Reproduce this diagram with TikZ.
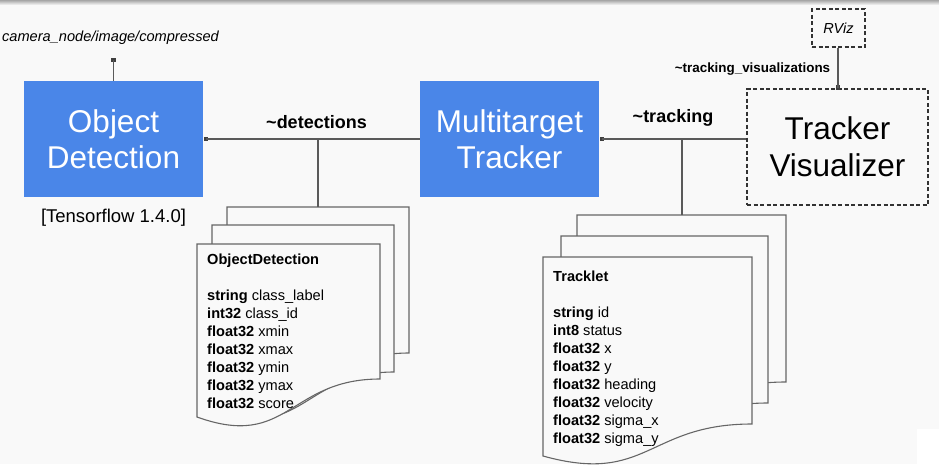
\documentclass[tikz,border=0pt]{standalone}
\usepackage{fontspec}
\setmainfont{Liberation Sans}
\definecolor{bg}{HTML}{F9F9F9}
\definecolor{gblue}{HTML}{4A86E8}
\definecolor{ln}{HTML}{5A5A5A}
\tikzset{
  blk/.style={fill=gblue, text=white, minimum width=179pt, minimum height=116pt, inner sep=0pt, align=center, font=\fontsize{31.5}{36}\selectfont},
  dbox/.style={draw=black!80, dash pattern=on 4pt off 2.5pt, line width=1.1pt, fill=bg, inner sep=0pt},
  conn/.style={draw=ln, line width=1.2pt},
  sq/.style={fill=ln!70!black, minimum size=4.5pt, inner sep=0pt},
  lbl/.style={font=\bfseries\fontsize{18}{20}\selectfont, inner sep=0pt},
  page/.style={draw=black!60, line width=1.1pt, fill=bg},
  doctext/.style={font=\fontsize{14.6}{18}\selectfont, align=left, anchor=north west, inner sep=0pt}
}
\newcommand\docpage[6]{\draw[page] (#1,#2) -- (#3,#2) -- (#3,#2+#4) .. controls ({(#1+#3)/2},#2+#4) and ({(#1+#3)/2},#2+#6) .. (#1,#2+#5) -- cycle;}
\begin{document}
\begin{tikzpicture}[x=1pt,y=-1pt]
\useasboundingbox (0,0) rectangle (939,464);
\fill[bg] (0,0) rectangle (939,464);
\shade[top color=black!35, bottom color=bg] (0,0) rectangle (939,5);
\fill[white] (917,429) rectangle (939,464);

% main blocks
\node[blk] (od) at (113.5,139) {Object\\Detection};
\node[blk] (mt) at (509.5,139) {Multitarget\\Tracker};
\node[dbox, minimum width=181pt, minimum height=116pt, align=center, font=\fontsize{31.5}{37}\selectfont] (tv) at (837.5,147) {Tracker\\Visualizer};
\node[dbox, minimum width=53pt, minimum height=38pt, font=\itshape\fontsize{14.5}{16}\selectfont] (rviz) at (838.5,28) {RViz};

% labels
\node[font=\itshape\fontsize{14.6}{16}\selectfont, inner sep=0pt] (cam) at (110.5,38) {camera\_node/image/compressed};
\node[font=\fontsize{18.5}{20}\selectfont, inner sep=0pt] (tf) at (113.5,218) {[Tensorflow 1.4.0]};
\node[lbl] (ldet) at (316.5,122) {\textasciitilde detections};
\node[lbl] (ltrk) at (673,118) {\textasciitilde tracking};
\node[font=\bfseries\fontsize{13.4}{15}\selectfont, inner sep=0pt] (lvis) at (752.5,69) {\textasciitilde tracking\_visualizations};

% ObjectDetection pages
\docpage{227}{207}{409}{146}{184}{217}
\docpage{212}{225}{394}{147}{185}{218}
\docpage{197}{244}{380}{135}{173}{206}
\node[doctext] (odmsg) at (207,253.5) {\textbf{ObjectDetection}\\[18pt]
\textbf{string} class\_label\\
\textbf{int32} class\_id\\
\textbf{float32} xmin\\
\textbf{float32} xmax\\
\textbf{float32} ymin\\
\textbf{float32} ymax\\
\textbf{float32} score};

% Tracklet pages
\docpage{577}{215}{786}{167}{199}{228}
\docpage{561}{236}{768}{167}{199}{228}
\docpage{543}{257}{752}{167}{199}{228}
\node[doctext] (trmsg) at (553,270.5) {\textbf{Tracklet}\\[18pt]
\textbf{string} id\\
\textbf{int8} status\\
\textbf{float32} x\\
\textbf{float32} y\\
\textbf{float32} heading\\
\textbf{float32} velocity\\
\textbf{float32} sigma\_x\\
\textbf{float32} sigma\_y};

% connectors
\node[sq] (s1) at (113.5,60) {};
\draw[conn] (s1.center) -- (s1.center |- od.north);
\node[sq] (s2) at (206,139) {};
\draw[conn] (s2.center) -- (mt.west);
\coordinate (j1) at (318,139);
\coordinate (p1) at (318,207);
\draw[conn] (j1) -- (p1);
\node[sq] (s3) at (602,139) {};
\draw[conn] (s3.center) -- (s3.center -| tv.west);
\coordinate (j2) at (682,139);
\coordinate (p2) at (682,215);
\draw[conn] (j2) -- (p2);
\node[sq] (s4) at (838,87.5) {};
\draw[conn] (rviz.south -| s4.center) -- (s4.center);
\end{tikzpicture}
\end{document}
